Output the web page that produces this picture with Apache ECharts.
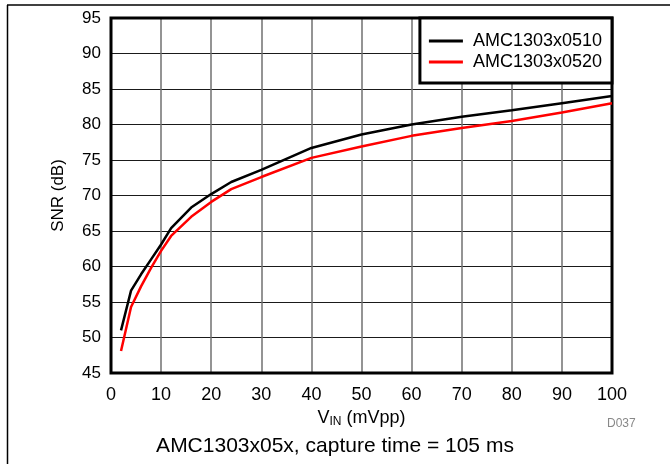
<!DOCTYPE html>
<html>
<head>
<meta charset="utf-8">
<script src="https://cdn.jsdelivr.net/npm/echarts@6/dist/echarts.min.js"></script>
<style>html,body{margin:0;padding:0;background:#fff}#c{width:670px;height:464px}</style>
</head>
<body>
<div id="c"></div>
<script>
var xValues = [2, 4, 6, 8, 10, 12, 16, 20, 24, 30, 40, 50, 60, 70, 80, 90, 100];
var snr0510 = [51.0, 56.6, 58.9, 61.0, 63.1, 65.4, 68.3, 70.2, 71.9, 73.6, 76.7, 78.6, 80.0, 81.1, 82.0, 83.0, 84.0];
var snr0520 = [48.1, 54.3, 57.2, 59.8, 62.2, 64.3, 67.0, 69.1, 70.9, 72.6, 75.3, 76.9, 78.4, 79.5, 80.5, 81.7, 83.0];
var seriesNames = ['AMC1303x0510', 'AMC1303x0520'];
var xTicks = [0, 10, 20, 30, 40, 50, 60, 70, 80, 90, 100];
var yTicks = [45, 50, 55, 60, 65, 70, 75, 80, 85, 90, 95];

function pairs(xs, ys) { return xs.map(function (x, i) { return [x, ys[i]]; }); }

var chart = echarts.init(document.getElementById('c'), null, { renderer: 'canvas' });
var font = 'Liberation Sans, Arial, sans-serif';
chart.setOption({
  animation: false,
  backgroundColor: '#fff',
  grid: { left: 111, right: 58, top: 18, bottom: 91, show: true, borderColor: '#000', borderWidth: 3, backgroundColor: 'transparent', z: 3 },
  legend: {
    show: true,
    right: 58, top: 18,
    orient: 'vertical',
    itemWidth: 34, itemHeight: 3, itemGap: 3,
    padding: [14, 10, 12, 9],
    backgroundColor: '#fff',
    borderColor: '#000', borderWidth: 3, borderRadius: 0,
    textStyle: { fontFamily: font, fontSize: 18, color: '#000', padding: [0, 0, 0, 5] },
    icon: 'rect',
    data: seriesNames
  },
  xAxis: {
    type: 'value', min: xTicks[0], max: xTicks[xTicks.length - 1], interval: 10,
    name: 'V{sub|IN} (mVpp)', nameLocation: 'middle', nameGap: 32,
    nameTextStyle: { fontFamily: font, fontSize: 18, color: '#000',
      rich: { sub: { fontFamily: font, fontSize: 12, color: '#000', verticalAlign: 'bottom', padding: [7, 0, 0, 0] } } },
    axisLine: { show: false }, axisTick: { show: false },
    axisLabel: { fontFamily: font, fontSize: 18, color: '#000', margin: 13 },
    splitLine: { show: true, lineStyle: { color: '#707070', width: 1.5 } }
  },
  yAxis: {
    type: 'value', min: yTicks[0], max: yTicks[yTicks.length - 1], interval: 5,
    name: 'SNR (dB)', nameLocation: 'middle', nameGap: 44, nameRotate: 90,
    nameTextStyle: { fontFamily: font, fontSize: 17, color: '#000' },
    axisLine: { show: false }, axisTick: { show: false },
    axisLabel: { fontFamily: font, fontSize: 17, color: '#000', margin: 10 },
    splitLine: { show: true, lineStyle: { color: '#1a1a1a', width: 1 } }
  },
  series: [
    { name: seriesNames[0], type: 'line', data: pairs(xValues, snr0510), showSymbol: false, symbol: 'none', smooth: false,
      lineStyle: { color: '#000', width: 2.5 }, itemStyle: { color: '#000' }, z: 4 },
    { name: seriesNames[1], type: 'line', data: pairs(xValues, snr0520), showSymbol: false, symbol: 'none', smooth: false,
      lineStyle: { color: '#ff0000', width: 2.5 }, itemStyle: { color: '#ff0000' }, z: 4 }
  ],
  graphic: [
    { type: 'line', shape: { x1: 7, y1: 5, x2: 670, y2: 5 }, style: { stroke: '#000', lineWidth: 1.5 } },
    { type: 'line', shape: { x1: 7.5, y1: 5, x2: 7.5, y2: 464 }, style: { stroke: '#000', lineWidth: 1.5 } },
    { type: 'text', left: 607, top: 418, style: { text: 'D037', fontFamily: font, fontSize: 12, fill: '#888' } },
    { type: 'text', left: 'center', top: 436, style: { text: 'AMC1303x05x, capture time = 105 ms', fontFamily: font, fontSize: 21, fill: '#000' } }
  ]
});
</script>
</body>
</html>
